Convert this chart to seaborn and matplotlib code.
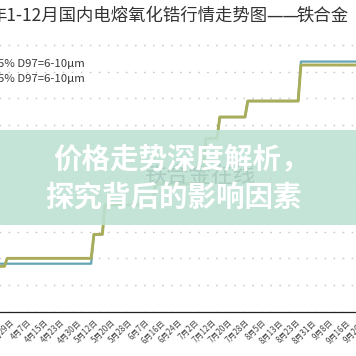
import numpy as np
import pandas as pd
import matplotlib
matplotlib.use('Agg')
import matplotlib.pyplot as plt
import seaborn as sns
from matplotlib.patches import Rectangle

# tick labels on the category axis (one label every 6 trading days)
tick_labels = ['3月29日', '4月7日', '4月15日', '4月23日', '4月30日', '5月12日',
               '5月20日', '5月28日', '6月7日', '6月16日', '6月24日', '7月2日',
               '7月12日', '7月20日', '7月28日', '8月5日', '8月13日', '8月23日',
               '8月31日', '9月8日', '9月16日', '9月26日']
days_per_tick = 6

# trading day index / price where the step lines turn
olive_day = [-8, -2, -1, 29, 30, 33, 34, 51, 52, 69, 70, 74, 75, 84, 85, 103, 104, 132]
olive_price = [27700, 27700, 28000, 28000, 28900, 28900, 30000, 30000, 30800, 30800,
               32500, 32500, 33300, 33300, 33900, 33900, 35250, 35250]
teal_day = [-8, 29, 30, 33, 34, 51, 52, 69, 70, 74, 75, 84, 85, 103, 104, 132]
teal_price = [27800, 27800, 28900, 28900, 30000, 30000, 30800, 30800,
              32500, 32500, 33300, 33300, 33900, 33900, 35380, 35380]

y_ticks = list(range(26000, 36001, 1000))

title_a = '年1-12月国内电熔氧化锆行情走势图'
title_dash = '——'
title_b = '铁合金'
legend_lbl = '5% D97=6-10μm'
banner_1 = '价格走势深度解析，'
banner_2 = '探究背后的影响因素'
watermark = '铁合金在线'

sns.set_style('white')
plt.rcParams['font.family'] = ['Noto Sans CJK SC', 'DejaVu Sans']

W = 356
fig = plt.figure(figsize=(3.56, 3.56), dpi=100)
fig.patch.set_facecolor('white')

# axes wider than the picture, y labels and legend keys fall outside
ax = fig.add_axes([-40 / W, (W - 311.7) / W, 440 / W, (311.7 - 39.7) / W])
px_per_day = 2.7975
ax.set_xlim(-50 / px_per_day, 390 / px_per_day)
ax.set_ylim(26000, 36200)

df_teal = pd.DataFrame({'day': teal_day, 'price': teal_price})
df_olive = pd.DataFrame({'day': olive_day, 'price': olive_price})
sns.lineplot(data=df_teal, x='day', y='price', ax=ax, color='#62a5b5',
             lw=1.6, estimator=None, sort=False)
sns.lineplot(data=df_olive, x='day', y='price', ax=ax, color='#a9ad5a',
             lw=2.1, estimator=None, sort=False)

ax.set_yticks(y_ticks)
ax.set_yticklabels([])
ax.yaxis.grid(True, color='#c9c9c9', lw=1.0, linestyle=(0, (1.2, 5.3)))
ax.xaxis.grid(False)
ax.set_axisbelow(True)
ax.tick_params(axis='y', length=0)

ax.set_xticks(np.arange(len(tick_labels)) * days_per_tick)
ax.set_xticklabels(tick_labels, rotation=45, ha='right', rotation_mode='anchor',
                   fontsize=5.8, color='#444444')
ax.tick_params(axis='x', direction='out', length=3, width=0.8, color='#222222', pad=1.5)
ax.set_xlabel('')
ax.set_ylabel('')
for s in ['top', 'right', 'left']:
    ax.spines[s].set_visible(False)
ax.spines['bottom'].set_color('#222222')
ax.spines['bottom'].set_linewidth(0.9)

# title: dash drawn with DejaVu so it is one long line
renderer = fig.canvas.get_renderer()
ty = 1 - 16 / W
t1 = fig.text(-11 / W, ty, title_a, fontsize=12.5, color='#333333', va='center', ha='left')
x1 = t1.get_window_extent(renderer).x1
t2 = fig.text((x1 - 1) / W, ty, title_dash, fontsize=12, color='#333333', va='center', ha='left',
              family='DejaVu Sans')
x2 = t2.get_window_extent(renderer).x1
fig.text((x2 - 3) / W, ty, title_b, fontsize=12.5, color='#333333', va='center', ha='left')

fig.text(-2 / W, 1 - 64 / W, legend_lbl, fontsize=8.2, color='#3a3a3a', va='center', ha='left')
fig.text(-2 / W, 1 - 79 / W, legend_lbl, fontsize=8.2, color='#3a3a3a', va='center', ha='left')

# mint banner over the chart
fig.add_artist(Rectangle((0, 1 - 225 / W), 1, 95 / W, transform=fig.transFigure,
                         facecolor='#bde2d3', edgecolor='none', alpha=0.9, zorder=10))
fig.text(200 / W, 1 - 176 / W, watermark, fontsize=16, color='#abcdc1',
         va='center', ha='center', zorder=11)
fig.text(53 / W, 1 - 160 / W, banner_1, fontsize=20.5, color='white', fontweight='bold',
         va='center', ha='left', zorder=12)
fig.text(45 / W, 1 - 198.5 / W, banner_2, fontsize=20.5, color='white', fontweight='bold',
         va='center', ha='left', zorder=12)

fig.savefig('out.png', dpi=100)
